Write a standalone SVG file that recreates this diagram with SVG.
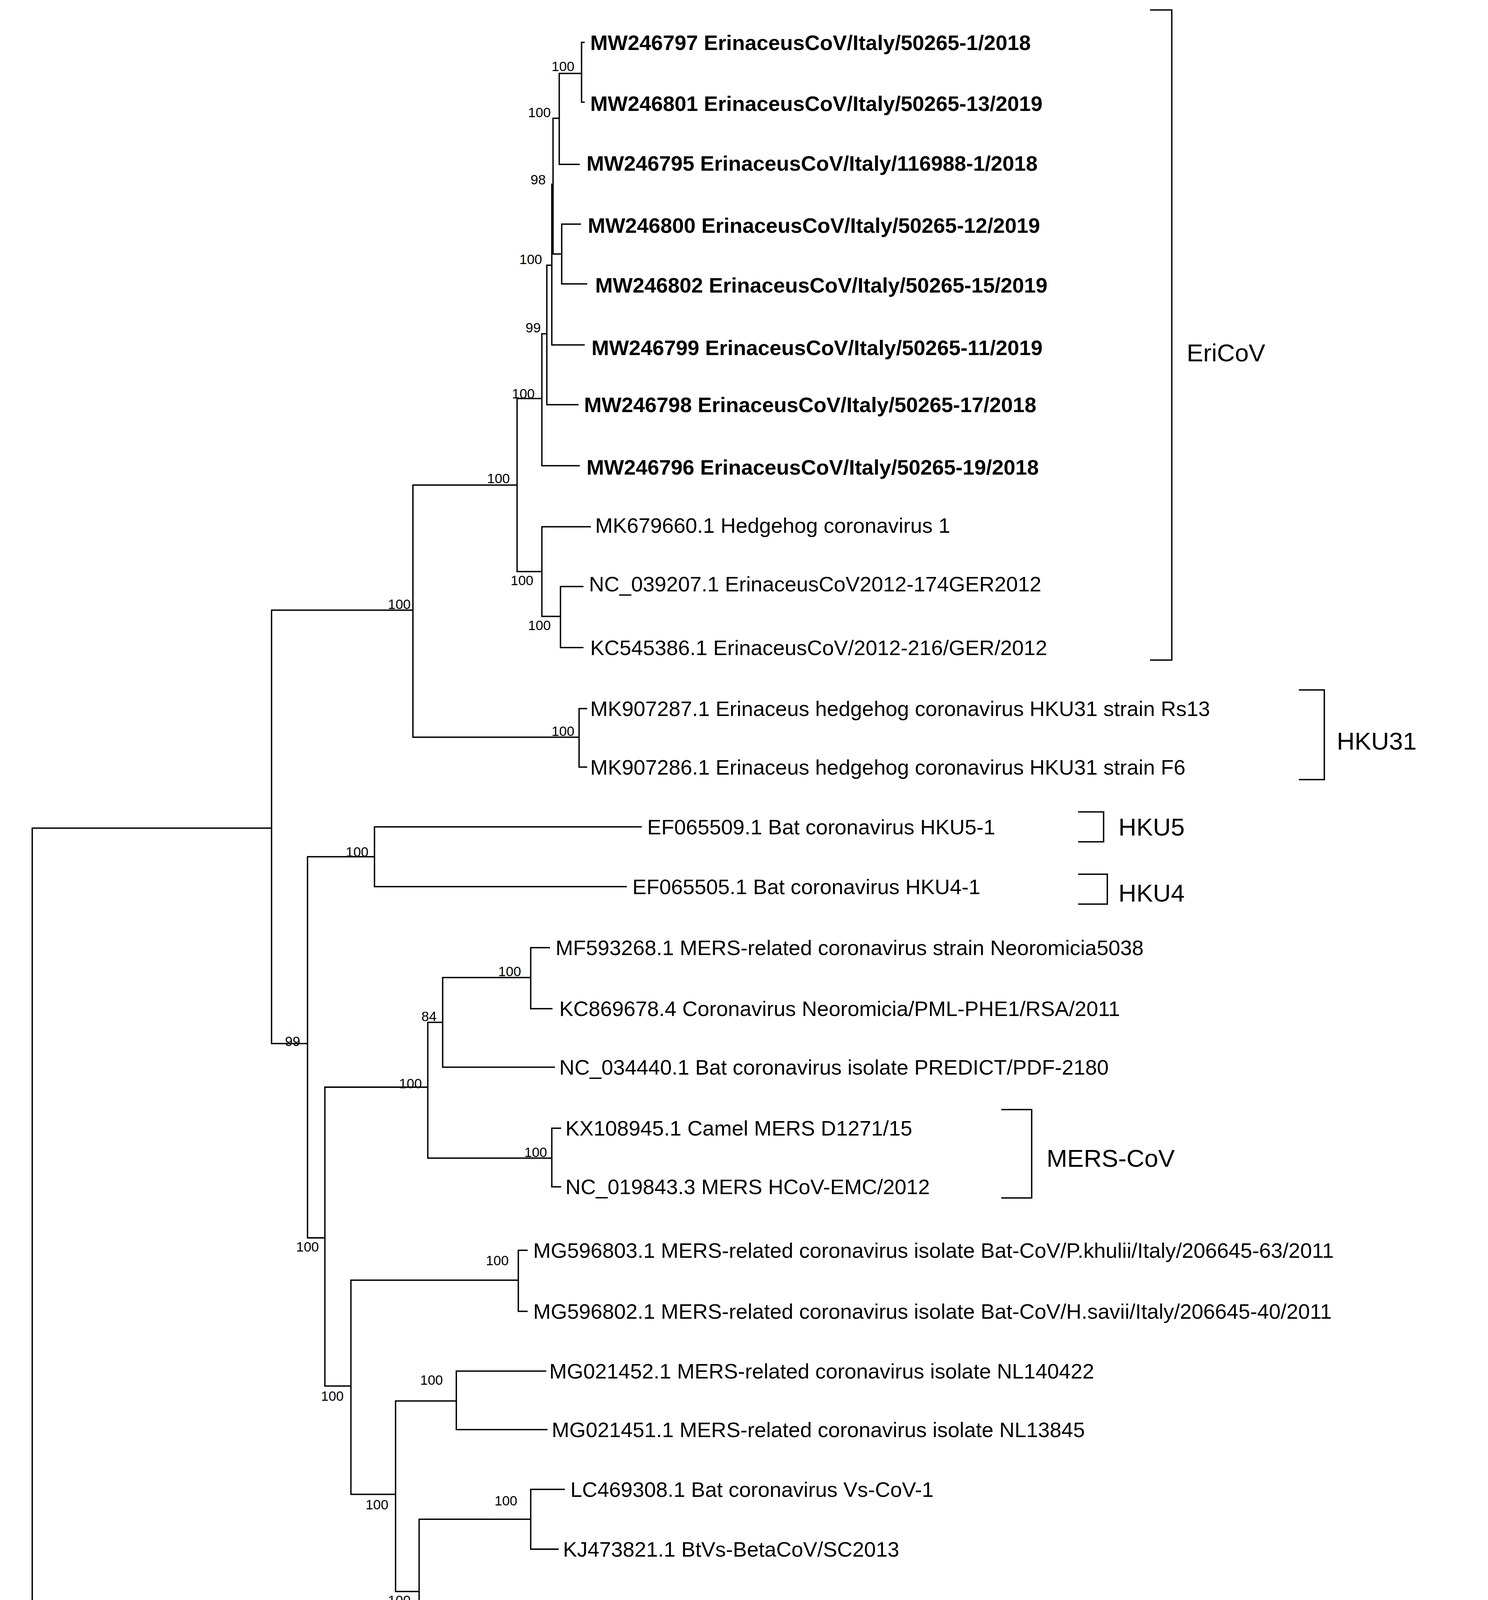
<svg xmlns="http://www.w3.org/2000/svg" width="3810" height="4999" viewBox="0 0 3810 4999">
<style>
.e{fill:none;stroke:#000;stroke-width:1.1;stroke-linecap:square}
.t{font-family:"Liberation Sans",Arial,sans-serif;font-size:17px;fill:#000}
.b{font-weight:bold}
.s{font-family:"Liberation Sans",Arial,sans-serif;font-size:11px;fill:#000;text-anchor:middle}
.c{font-family:"Liberation Sans",Arial,sans-serif;font-size:20px;fill:#000}
</style>
<rect width="3810" height="4999" fill="#fff"/>
<g transform="scale(3.175 3.188)">
<g id="connectors">
<path class="e" d="M26 665V1488M26 665H219M26 1488H510
M219 490V838M219 490H333M219 838H248
M333 389.5V592M333 389.5H417M333 592H467
M417 320V459M417 320H437M417 459H437
M437 268V374M437 268H441M437 374H467
M441 213V325M441 213H445M441 325H466
M445 148V277M445 148H446M445 277H471
M446 95V204M446 95H451M446 204H453
M451 59V132M451 59H469M451 132H467
M469 34V82M469 34H471M469 82H471
M453 180V228M453 180H468M453 228H473
M437 423V495M437 423H476M437 495H452
M452 471V520M452 471H470M452 520H470
M467 569V616M467 569H473M467 616H473
M248 688V994M248 688H302M248 994H262
M302 664V712M302 664H517M302 712H505
M262 873V1113M262 873H345M262 1113H283
M345 821V930M345 821H357M345 930H445
M357 785V857M357 785H428M357 857H447
M428 761V810M428 761H443M428 810H445
M445 906V953M445 906H452M445 953H452
M283 1028V1200M283 1028H418M283 1200H319
M418 1004V1053M418 1004H425M418 1053H425
M319 1125V1278M319 1125H368M319 1278H338
M368 1101V1148M368 1101H440M368 1148H441
M338 1220V1333M338 1220H428M338 1333H439.5
M428 1196V1244M428 1196H455M428 1244H450
M439.5 1292V1376M439.5 1292H465M439.5 1376H442
M442 1343V1411M442 1343H462M442 1411H458
M458 1388V1436M458 1388H464M458 1436H465
M928 8H945V530H928M1048 554H1068V626H1048M870 652H890V676H870M870 702H893V726H870M808 891H832V962H808M825 1474H848V1500H825
M52 1533V1538H165V1533"/>
</g>
<g id="tips">
<text class="t b" x="476" y="40">MW246797 ErinaceusCoV/Italy/50265-1/2018</text>
<text class="t b" x="476" y="89">MW246801 ErinaceusCoV/Italy/50265-13/2019</text>
<text class="t b" x="473" y="137">MW246795 ErinaceusCoV/Italy/116988-1/2018</text>
<text class="t b" x="474" y="187">MW246800 ErinaceusCoV/Italy/50265-12/2019</text>
<text class="t b" x="480" y="235">MW246802 ErinaceusCoV/Italy/50265-15/2019</text>
<text class="t b" x="477" y="285">MW246799 ErinaceusCoV/Italy/50265-11/2019</text>
<text class="t b" x="471" y="331">MW246798 ErinaceusCoV/Italy/50265-17/2018</text>
<text class="t b" x="473" y="381">MW246796 ErinaceusCoV/Italy/50265-19/2018</text>
<text class="t" x="480" y="428">MK679660.1 Hedgehog coronavirus 1</text>
<text class="t" x="475" y="475">NC_039207.1 ErinaceusCoV2012-174GER2012</text>
<text class="t" x="476" y="526">KC545386.1 ErinaceusCoV/2012-216/GER/2012</text>
<text class="t" x="476" y="575">MK907287.1 Erinaceus hedgehog coronavirus HKU31 strain Rs13</text>
<text class="t" x="476" y="622">MK907286.1 Erinaceus hedgehog coronavirus HKU31 strain F6</text>
<text class="t" x="522" y="670">EF065509.1 Bat coronavirus HKU5-1</text>
<text class="t" x="510" y="718">EF065505.1 Bat coronavirus HKU4-1</text>
<text class="t" x="448" y="767">MF593268.1 MERS-related coronavirus strain Neoromicia5038</text>
<text class="t" x="451" y="816">KC869678.4 Coronavirus Neoromicia/PML-PHE1/RSA/2011</text>
<text class="t" x="451" y="863">NC_034440.1 Bat coronavirus isolate PREDICT/PDF-2180</text>
<text class="t" x="456" y="912">KX108945.1 Camel MERS D1271/15</text>
<text class="t" x="456" y="959">NC_019843.3 MERS HCoV-EMC/2012</text>
<text class="t" x="430" y="1010">MG596803.1 MERS-related coronavirus isolate Bat-CoV/P.khulii/Italy/206645-63/2011</text>
<text class="t" x="430" y="1059">MG596802.1 MERS-related coronavirus isolate Bat-CoV/H.savii/Italy/206645-40/2011</text>
<text class="t" x="443" y="1107">MG021452.1 MERS-related coronavirus isolate NL140422</text>
<text class="t" x="445" y="1154">MG021451.1 MERS-related coronavirus isolate NL13845</text>
<text class="t" x="460" y="1202">LC469308.1 Bat coronavirus Vs-CoV-1</text>
<text class="t" x="454" y="1250">KJ473821.1 BtVs-BetaCoV/SC2013</text>
<text class="t" x="466" y="1301">KX442564.1 Hypsugo bat coronavirus HKU25 isolate YD131305</text>
<text class="t" x="466" y="1349">MG987421.1 MERS-related coronavirus isolate NL140455</text>
<text class="t" x="469" y="1397">MG987420.1 MERS-related coronavirus isolate NL13892</text>
<text class="t" x="469" y="1446">KX442565.1 Hypsugo bat coronavirus HKU25 isolate NL140462</text>
<text class="t" x="522" y="1494">NC_004718.3 SARS coronavirus</text>
</g>
<g id="bootstrap">
<text class="s" x="454" y="57">100</text>
<text class="s" x="435" y="94">100</text>
<text class="s" x="434" y="148">98</text>
<text class="s" x="428" y="212">100</text>
<text class="s" x="430" y="267">99</text>
<text class="s" x="422" y="320">100</text>
<text class="s" x="402" y="388">100</text>
<text class="s" x="421" y="470">100</text>
<text class="s" x="435" y="506">100</text>
<text class="s" x="322" y="489">100</text>
<text class="s" x="454" y="591">100</text>
<text class="s" x="288" y="688">100</text>
<text class="s" x="236" y="840">99</text>
<text class="s" x="411" y="784">100</text>
<text class="s" x="346" y="820">84</text>
<text class="s" x="331" y="874">100</text>
<text class="s" x="432" y="929">100</text>
<text class="s" x="248" y="1005">100</text>
<text class="s" x="401" y="1016">100</text>
<text class="s" x="268" y="1125">100</text>
<text class="s" x="348" y="1112">100</text>
<text class="s" x="304" y="1212">100</text>
<text class="s" x="408" y="1209">100</text>
<text class="s" x="322" y="1289">100</text>
<text class="s" x="425" y="1335">100</text>
<text class="s" x="430" y="1390">98</text>
<text class="s" x="442" y="1425">100</text>
<text class="s" x="107" y="1556">0.10</text>
</g>
<g id="clades">
<text class="c" x="957" y="290">EriCoV</text>
<text class="c" x="1078" y="602">HKU31</text>
<text class="c" x="902" y="671">HKU5</text>
<text class="c" x="902" y="724">HKU4</text>
<text class="c" x="844" y="937">MERS-CoV</text>
<text class="c" x="856" y="1493">SARS-CoV</text>
</g>
</g>
</svg>
